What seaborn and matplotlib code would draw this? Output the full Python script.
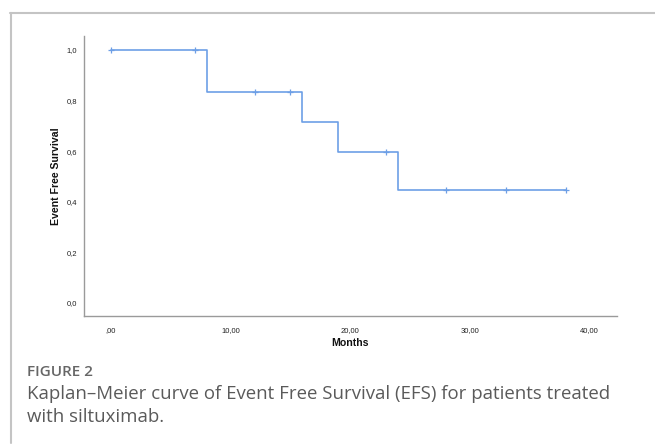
import matplotlib
matplotlib.use("Agg")
import matplotlib.pyplot as plt
import seaborn as sns
import pandas as pd
from matplotlib.lines import Line2D

# Data
step_times = [0, 8, 16, 19, 24, 38]
step_survival = [1.0, 0.833, 0.714, 0.595, 0.446, 0.446]
censor_times = [0, 7, 12, 15, 23, 28, 33, 38]
censor_survival = [1.0, 1.0, 0.833, 0.833, 0.595, 0.446, 0.446, 0.446]
x_ticks = [0, 10, 20, 30, 40]
x_tick_labels = [",00", "10,00", "20,00", "30,00", "40,00"]
y_ticks = [0.0, 0.2, 0.4, 0.6, 0.8, 1.0]
y_tick_labels = ["0,0", "0,2", "0,4", "0,6", "0,8", "1,0"]

sns.set_style("white")
plt.rcParams["font.family"] = ["Liberation Sans", "DejaVu Sans"]

line_color = "#6d9fe6"

fig = plt.figure(figsize=(6.55, 4.44), dpi=100)
ax = fig.add_axes([84 / 655, 1 - 316 / 444, (617 - 84) / 655, (316 - 36) / 444])

steps = pd.DataFrame({"Months": step_times, "Survival": step_survival})
cens = pd.DataFrame({"Months": censor_times, "Survival": censor_survival})

sns.lineplot(data=steps, x="Months", y="Survival", drawstyle="steps-post",
             color=line_color, linewidth=1.2, ax=ax)
sns.scatterplot(data=cens, x="Months", y="Survival", marker="+", s=22,
                color=line_color, linewidth=0.9, ax=ax, zorder=3)

ax.set_xlim(-2.26, 42.3)
ax.set_ylim(-0.052, 1.055)
ax.set_xticks(x_ticks)
ax.set_xticklabels(x_tick_labels)
ax.set_yticks(y_ticks)
ax.set_yticklabels(y_tick_labels)
ax.tick_params(axis="both", length=0, labelsize=5.5, colors="#222222")
ax.tick_params(axis="x", pad=8)
ax.tick_params(axis="y", pad=5)

for s in ["top", "right"]:
    ax.spines[s].set_visible(False)
for s in ["left", "bottom"]:
    ax.spines[s].set_color("#9a9a9a")
    ax.spines[s].set_linewidth(1.0)

ax.set_xlabel("Months", fontsize=7.6, fontweight="bold", labelpad=3, color="#111111")
ax.set_ylabel("Event Free Survival", fontsize=7.6, fontweight="bold", labelpad=4, color="#111111")

# frame lines
fig.add_artist(Line2D([10 / 655, 1.0], [1 - 13.5 / 444, 1 - 13.5 / 444],
                      transform=fig.transFigure, color="#c4c4c4", linewidth=1.5))
fig.add_artist(Line2D([11 / 655, 11 / 655], [1 - 13.5 / 444, 1 - 443 / 444],
                      transform=fig.transFigure, color="#c4c4c4", linewidth=1.5))

fig.text(27 / 655, 1 - 372 / 444, "FIGURE 2", fontsize=11, color="#666666",
         family=["Open Sans", "DejaVu Sans"], fontweight="semibold", va="center")
fig.text(27 / 655, 1 - 394 / 444,
         "Kaplan\u2013Meier curve of Event Free Survival (EFS) for patients treated",
         fontsize=13.4, color="#5a5a5a", family=["Open Sans", "DejaVu Sans"], va="center")
fig.text(27 / 655, 1 - 417 / 444, "with siltuximab.",
         fontsize=13.4, color="#5a5a5a", family=["Open Sans", "DejaVu Sans"], va="center")

fig.savefig("out.png", dpi=100)
